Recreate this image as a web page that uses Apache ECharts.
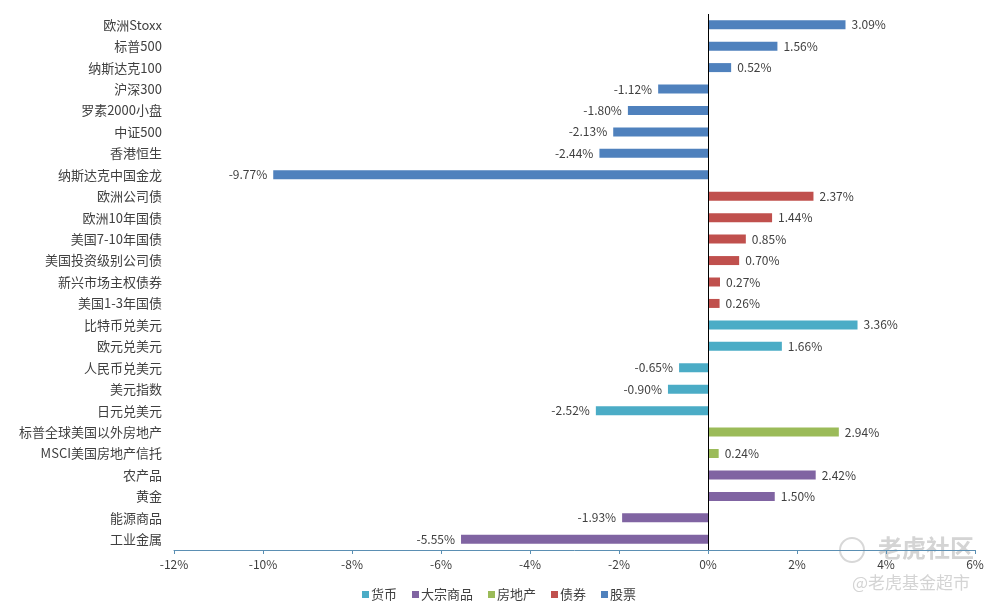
<!DOCTYPE html>
<html><head><meta charset="utf-8">
<script src="https://cdn.jsdelivr.net/npm/echarts@6/dist/echarts.min.js"></script>
<style>html,body{margin:0;padding:0;background:#fff}#c{width:998px;height:611px}</style>
</head><body><div id="c"></div>
<script>
const categories = ['欧洲Stoxx','标普500','纳斯达克100','沪深300','罗素2000小盘','中证500','香港恒生','纳斯达克中国金龙',
  '欧洲公司债','欧洲10年国债','美国7-10年国债','美国投资级别公司债','新兴市场主权债券','美国1-3年国债',
  '比特币兑美元','欧元兑美元','人民币兑美元','美元指数','日元兑美元',
  '标普全球美国以外房地产','MSCI美国房地产信托',
  '农产品','黄金','能源商品','工业金属'];
const stockCats = ['欧洲Stoxx','标普500','纳斯达克100','沪深300','罗素2000小盘','中证500','香港恒生','纳斯达克中国金龙'];
const stockVals = [3.09,1.56,0.52,-1.12,-1.80,-2.13,-2.44,-9.77];
const bondCats = ['欧洲公司债','欧洲10年国债','美国7-10年国债','美国投资级别公司债','新兴市场主权债券','美国1-3年国债'];
const bondVals = [2.37,1.44,0.85,0.70,0.27,0.26];
const fxCats = ['比特币兑美元','欧元兑美元','人民币兑美元','美元指数','日元兑美元'];
const fxVals = [3.36,1.66,-0.65,-0.90,-2.52];
const reCats = ['标普全球美国以外房地产','MSCI美国房地产信托'];
const reVals = [2.94,0.24];
const cmdCats = ['农产品','黄金','能源商品','工业金属'];
const cmdVals = [2.42,1.50,-1.93,-5.55];
const xTicks = [-12,-10,-8,-6,-4,-2,0,2,4,6];

function build(cats, vals){
  return categories.map(c=>{
    const i = cats.indexOf(c);
    if(i<0) return '-';
    const v = vals[i];
    return {value:v, label:{position: v>=0?'right':'left'}};
  });
}
const seriesDefs = [
  {name:'货币', cats:fxCats, vals:fxVals, color:'#4bacc6'},
  {name:'大宗商品', cats:cmdCats, vals:cmdVals, color:'#8064a2'},
  {name:'房地产', cats:reCats, vals:reVals, color:'#9bbb59'},
  {name:'债券', cats:bondCats, vals:bondVals, color:'#c0504d'},
  {name:'股票', cats:stockCats, vals:stockVals, color:'#4f81bd'}
];
const series = seriesDefs.map((s,idx)=>({
  name:s.name, type:'bar', stack:'all', barWidth:9,
  itemStyle:{color:s.color},
  label:{show:true, formatter:p=>p.value.toFixed(2)+'%', color:'#404040', fontSize:12, distance:6, fontFamily:'Noto Sans CJK SC'},
  data: build(s.cats, s.vals),
  markLine: idx===0 ? {silent:true, symbol:'none', label:{show:false}, lineStyle:{color:'#000', type:'solid', width:1}, data:[{xAxis:0}]} : undefined
}));
const chart = echarts.init(document.getElementById('c'));
chart.setOption({
  animation:false,
  grid:{left:174, right:23, top:14, bottom:61},
  xAxis:{type:'value', min:xTicks[0], max:xTicks[xTicks.length-1], interval:2,
    axisLine:{show:true, onZero:false, lineStyle:{color:'#5b8fb3'}},
    axisTick:{show:true, length:4, lineStyle:{color:'#5b8fb3'}},
    splitLine:{show:false},
    axisLabel:{formatter:v=>v+'%', color:'#404040', fontSize:12, margin:8, fontFamily:'Noto Sans CJK SC'}},
  yAxis:{type:'category', inverse:true, data:categories,
    axisLine:{show:false, onZero:false}, axisTick:{show:false},
    axisLabel:{color:'#404040', fontSize:13, margin:12, fontFamily:'Noto Sans CJK SC'}},
  legend:{left:'center', top:583, itemWidth:7, itemHeight:7, itemGap:15, icon:'rect',
    textStyle:{color:'#404040', fontSize:13, fontFamily:'Noto Sans CJK SC', padding:[0,0,0,-3]},
    data:['货币','大宗商品','房地产','债券','股票']},
  graphic:[
    {type:'circle', shape:{cx:852, cy:550, r:12}, style:{fill:'none', stroke:'#d8d8d8', lineWidth:2}},
    {type:'text', left:878, top:536, style:{text:'老虎社区', fill:'#d4d4d4', font:'bold 24px "Noto Sans CJK SC"'}},
    {type:'text', left:852, top:574, style:{text:'@老虎基金超市', fill:'#d4d4d4', font:'17px "Noto Sans CJK SC"'}}
  ],
  series
});
</script></body></html>
